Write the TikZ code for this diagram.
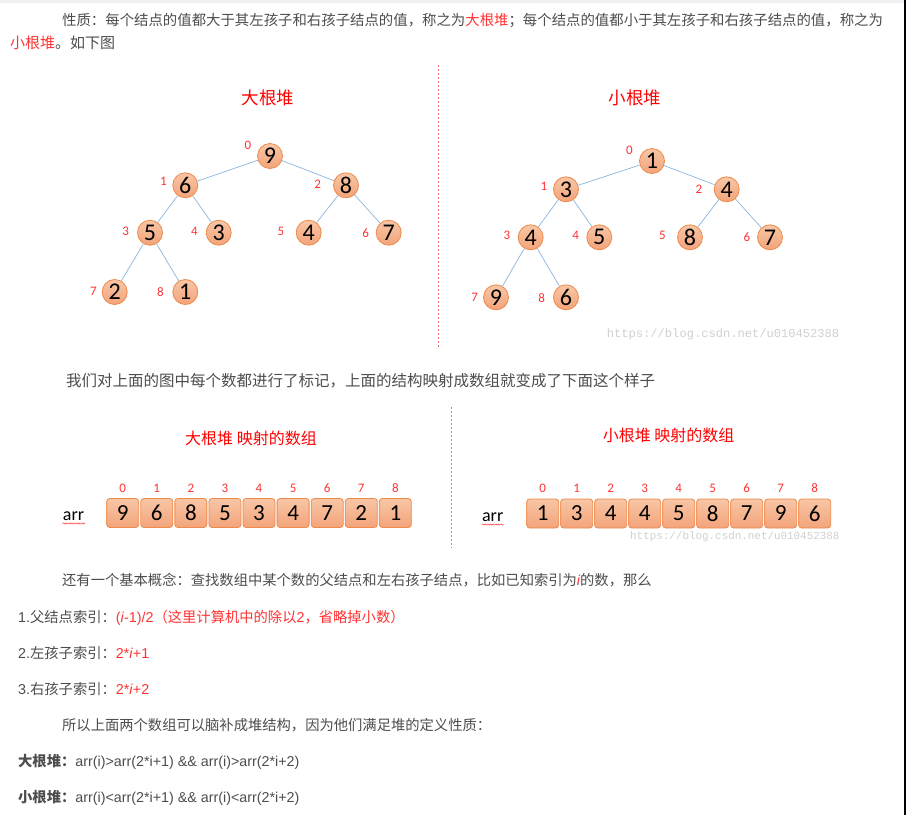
\documentclass[tikz,border=0pt]{standalone}
\usepackage{fontspec}
\setmainfont{Liberation Sans}
\newfontfamily\cjk{Noto Sans CJK SC}
\newfontfamily\calfont{Carlito}
\newfontfamily\monofont{Liberation Mono}
\usetikzlibrary{decorations.pathmorphing}
\newcommand\zht[1]{{\cjk #1}}
\definecolor{txt}{HTML}{4D4D4D}
\definecolor{hred}{HTML}{FF3333}
\definecolor{tred}{HTML}{FF0000}
\definecolor{edgecol}{HTML}{8AB6E0}
\definecolor{obord}{HTML}{EE8A4A}
\definecolor{otop}{HTML}{F8C6A6}
\definecolor{obot}{HTML}{F3A47A}
\definecolor{dashcol}{HTML}{F07070}
\definecolor{wm}{HTML}{D0D0D0}
\tikzset{
  hnode/.style={circle, draw=obord, line width=0.8pt, top color=otop, bottom color=obot,
    minimum size=25pt, inner sep=0pt, font=\calfont\fontsize{24}{24}\selectfont},
  idx/.style={text=hred, inner sep=0pt, font=\calfont\fontsize{13}{13}\selectfont},
  cell/.style={rectangle, rounded corners=3pt, draw=obord, line width=0.8pt, top color=otop,
    bottom color=obot, minimum width=32pt, minimum height=29pt, inner sep=0pt,
    font=\calfont\fontsize{23}{23}\selectfont},
  tline/.style={edgecol, line width=0.7pt},
  bodytop/.style={anchor=base west, inner sep=0pt, text=txt, font=\fontsize{14.4}{14.4}\selectfont},
  bodymid/.style={anchor=base west, inner sep=0pt, text=txt, font=\fontsize{15.5}{15.5}\selectfont},
  bodybot/.style={anchor=base west, inner sep=0pt, text=txt, font=\fontsize{14.3}{14.3}\selectfont},
  title/.style={text=tred, inner sep=0pt, font=\cjk\fontsize{17.5}{17.5}\selectfont},
  subtitle/.style={text=tred, inner sep=0pt, font=\cjk\fontsize{16}{16}\selectfont},
  arrlabel/.style={anchor=base, inner sep=0pt, text=black, font=\calfont\fontsize{18}{18}\selectfont},
  sep/.style={dashcol, line width=0.8pt, dash pattern=on 2pt off 2pt},
  wmark/.style={text=wm, inner sep=0pt, anchor=west},
  wavy/.style={hred, line width=0.5pt, decorate, decoration={snake, amplitude=0.6pt, segment length=2.6pt}}
}
\begin{document}
\begin{tikzpicture}[x=1pt, y=-1pt]
\useasboundingbox (0,0) rectangle (906,815);
\fill[white] (0,0) rectangle (906,815);
% frame bits
\fill[black!6] (0,0) rectangle (904,2.7);
\fill[black!95!blue] (904.3,0) rectangle (906,815);

% top text
\node[bodytop] (t1) at (62,25.5) {\zht{性质：每个结点的值都大于其左孩子和右孩子结点的值，称之为}\zht{\color{hred}大根堆}\zht{；每个结点的值都小于其左孩子和右孩子结点的值，称之为}};
\node[bodytop, font=\fontsize{15}{15}\selectfont] (t2) at (10,48.5) {\zht{\color{hred}小根堆}\zht{。如下图}};

% separators
\coordinate (s1a) at (438,65); \coordinate (s1b) at (438,348);
\draw[sep] (s1a) -- (s1b);
\coordinate (s2a) at (451,407); \coordinate (s2b) at (451,548);
\draw[sep] (s2a) -- (s2b);

% titles
\node[title] (T1) at (268,98) {大根堆};
\node[title] (T2) at (635,98) {小根堆};

% big heap
\node[hnode] (A0) at (270,156) {9};
\node[hnode] (A1) at (185.3,185.3) {6};
\node[hnode] (A2) at (346,185.3) {8};
\node[hnode] (A3) at (150,232.7) {5};
\node[hnode] (A4) at (218.7,232.7) {3};
\node[hnode] (A5) at (308.7,232.7) {4};
\node[hnode] (A6) at (388.7,232.7) {7};
\node[hnode] (A7) at (114.7,292) {2};
\node[hnode] (A8) at (185.3,292) {1};
\draw[tline] (A0) -- (A1); \draw[tline] (A0) -- (A2);
\draw[tline] (A1) -- (A3); \draw[tline] (A1) -- (A4);
\draw[tline] (A2) -- (A5); \draw[tline] (A2) -- (A6);
\draw[tline] (A3) -- (A7); \draw[tline] (A3) -- (A8);
\node[idx] (LA0) at (248,145) {0};
\node[idx] (LA1) at (163.3,181) {1};
\node[idx] (LA2) at (317.7,184) {2};
\node[idx] (LA3) at (125.7,231) {3};
\node[idx] (LA4) at (194.3,231) {4};
\node[idx] (LA5) at (281,231) {5};
\node[idx] (LA6) at (365.7,232.7) {6};
\node[idx] (LA7) at (93.3,291) {7};
\node[idx] (LA8) at (160.3,292.3) {8};

% small heap
\node[hnode] (B0) at (652,161) {1};
\node[hnode] (B1) at (566,189.3) {3};
\node[hnode] (B2) at (726.7,189.3) {4};
\node[hnode] (B3) at (530.7,237.3) {4};
\node[hnode] (B4) at (599.3,237.3) {5};
\node[hnode] (B5) at (690,237.3) {8};
\node[hnode] (B6) at (770,237.3) {7};
\node[hnode] (B7) at (496,297.3) {9};
\node[hnode] (B8) at (566,297.3) {6};
\draw[tline] (B0) -- (B1); \draw[tline] (B0) -- (B2);
\draw[tline] (B1) -- (B3); \draw[tline] (B1) -- (B4);
\draw[tline] (B2) -- (B5); \draw[tline] (B2) -- (B6);
\draw[tline] (B3) -- (B7); \draw[tline] (B3) -- (B8);
\node[idx] (LB0) at (629.3,150.7) {0};
\node[idx] (LB1) at (544,186.7) {1};
\node[idx] (LB2) at (699,189.3) {2};
\node[idx] (LB3) at (507,235.3) {3};
\node[idx] (LB4) at (575.7,235.3) {4};
\node[idx] (LB5) at (662.3,235.3) {5};
\node[idx] (LB6) at (747,237.3) {6};
\node[idx] (LB7) at (474.7,297.3) {7};
\node[idx] (LB8) at (541.7,298.3) {8};

\node[wmark, font=\monofont\fontsize{12.1}{12.1}\selectfont] (W1) at (606.7,334) {https://blog.csdn.net/u010452388};

% middle text
\node[bodymid] (t3) at (66,386) {\zht{我们对上面的图中每个数都进行了标记，上面的结构映射成数组就变成了下面这个样子}};

\node[subtitle] (T3) at (251,438) {大根堆 映射的数组};
\node[subtitle] (T4) at (668.7,435) {小根堆 映射的数组};

% arrays
\node[arrlabel] (arr1) at (73.5,520) {arr};
\draw[wavy] (62.5,523.5) -- (85,523.5);
\foreach \v [count=\k from 0] in {9,6,8,5,3,4,7,2,1} {
  \node[cell] (CA\k) at ({122.7+34.08*\k},513) {\v};
  \node[idx] (IA\k) at ({122.7+34.08*\k},488) {\k};
}
\node[arrlabel] (arr2) at (492.7,521) {arr};
\draw[wavy] (482,524.5) -- (503.5,524.5);
\foreach \v [count=\k from 0] in {1,3,4,4,5,8,7,9,6} {
  \node[cell] (CB\k) at ({542.7+34*\k},513.5) {\v};
  \node[idx] (IB\k) at ({542.7+34*\k},488.3) {\k};
}
\node[wmark, font=\monofont\fontsize{10.9}{10.9}\selectfont] (W2) at (630,536.7) {https://blog.csdn.net/u010452388};

% bottom text
\node[bodybot] (b1) at (62,585.5) {\zht{还有一个基本概念：查找数组中某个数的父结点和左右孩子结点，比如已知索引为}{\color{hred}\itshape i}\zht{的数，那么}};
\node[bodybot] (b2) at (18,622.5) {1.\zht{父结点索引：}{\color{hred}(\textit{i}-1)/2\zht{（这里计算机中的除以}2\zht{，省略掉小数）}}};
\node[bodybot] (b3) at (18,658.5) {2.\zht{左孩子索引：}{\color{hred}2*\textit{i}+1}};
\node[bodybot] (b4) at (18,694.5) {3.\zht{右孩子索引：}{\color{hred}2*\textit{i}+2}};
\node[bodybot] (b5) at (62,730.5) {\zht{所以上面两个数组可以脑补成堆结构，因为他们满足堆的定义性质：}};
\node[bodybot] (b6) at (18,766.5) {{\cjk\bfseries 大根堆：}arr(i)>arr(2*i+1) \&\& arr(i)>arr(2*i+2)};
\node[bodybot] (b7) at (18,802.5) {{\cjk\bfseries 小根堆：}arr(i)<arr(2*i+1) \&\& arr(i)<arr(2*i+2)};
\end{tikzpicture}
\end{document}
